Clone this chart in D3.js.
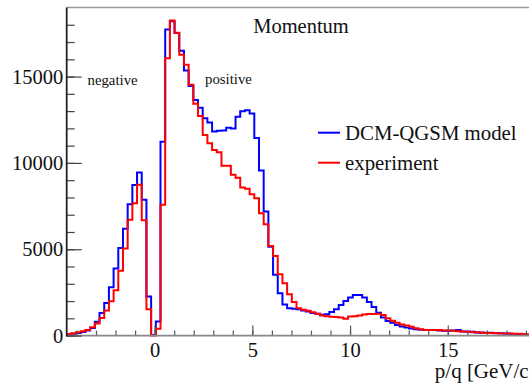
<!DOCTYPE html>
<html>
<head>
<meta charset="utf-8">
<script src="https://cdn.jsdelivr.net/npm/d3@7"></script>
<style>
  html, body { margin: 0; padding: 0; background: #fff; }
  svg { display: block; font-family: "Liberation Serif", "Times New Roman", serif; }
</style>
</head>
<body>
<svg id="chart" width="529" height="385"></svg>
<script>
// Histogram binning: 100 bins of 0.24 GeV/c from -4.5 to 19.5
const binLow = -4.5;
const binWidth = 0.24;

// Bin contents, DCM-QGSM model
const model = [
  60, 100, 150, 210, 290, 440, 800, 1310, 1890, 2800,
  3880, 5070, 6190, 7600, 8720, 9450, 7870, 2260, 40, 820,
  11230, 17720, 18200, 17520, 16490, 15350, 14460, 13650, 13200, 12590,
  12340, 11820, 11860, 11870, 12030, 12000, 12670, 12990, 13050, 12860,
  11440, 9560, 7180, 5150, 3530, 2450, 1800, 1580, 1560, 1520,
  1460, 1390, 1310, 1270, 1210, 1240, 1370, 1530, 1770, 2010,
  2200, 2350, 2350, 2210, 1950, 1650, 1330, 1050, 850, 740,
  620, 520, 470, 410, 370, 340, 325, 320, 320, 290,
  285, 285, 290, 320, 240, 230, 220, 180, 170, 165,
  160, 135, 130, 120, 100, 90, 80, 60, 50, 40
];

// Bin contents, experiment
const experiment = [
  95, 135, 190, 250, 330, 480, 700, 1020, 1450, 1990,
  2630, 3750, 5050, 6710, 7670, 8740, 6680, 1530, 0, 400,
  7580, 16060, 18250, 17540, 16260, 15680, 14520, 13420, 12720, 11620,
  11140, 10750, 10620, 9840, 9840, 9310, 9140, 8580, 8500, 8180,
  7950, 7085, 6450, 5190, 4610, 3550, 3030, 2400, 1950, 1590,
  1500, 1440, 1350, 1260, 1160, 1120, 1090, 1080, 1050, 970,
  1110, 1120, 1160, 1220, 1250, 1250, 1260, 1200, 1000, 860,
  740, 640, 590, 510, 430, 370, 330, 325, 320, 320,
  295, 290, 285, 250, 240, 235, 195, 190, 185, 155,
  150, 145, 120, 118, 115, 100, 100, 95, 70, 65
];

// Axis ticks and text
const xMajorTicks = [0, 5, 10, 15];
const xMinorTicks = d3.range(-4, 20, 1);
const yMajorTicks = [0, 5000, 10000, 15000];
const yMinorTicks = d3.range(0, 19000, 1000);
const legendLabels = ["DCM-QGSM model", "experiment"];
const seriesColors = ["#0000ff", "#ff0000"];

const svg = d3.select("#chart");
const frame = { left: 66.7, right: 535.7, top: 7.5, bottom: 335.6 };

const x = d3.scaleLinear().domain([-4.5, 19.5]).range([frame.left, frame.right]);
const y = d3.scaleLinear().domain([0, 19000]).range([frame.bottom, frame.top]);

// frame top edge
svg.append("line")
  .attr("x1", frame.left).attr("x2", frame.right).attr("y1", frame.top).attr("y2", frame.top)
  .attr("stroke", "#999").attr("stroke-width", 1.4);

// histogram outlines
function stepPoints(values) {
  const pts = values.map((v, i) => [binLow + i * binWidth, v]);
  pts.push([binLow + values.length * binWidth, values[values.length - 1]]);
  return pts;
}
const line = d3.line()
  .x(d => x(d[0]))
  .y(d => y(d[1]))
  .curve(d3.curveStepAfter);

[model, experiment].forEach((vals, i) => {
  svg.append("path")
    .datum(stepPoints(vals))
    .attr("d", line)
    .attr("fill", "none")
    .attr("stroke", seriesColors[i])
    .attr("stroke-width", 2);
});

// x axis (ticks point up into the frame)
const gx = svg.append("g").attr("transform", `translate(0,${frame.bottom})`);
gx.append("g").call(d3.axisBottom(x).tickValues(xMinorTicks).tickSize(-5).tickFormat(""));
gx.append("g").call(d3.axisBottom(x).tickValues(xMajorTicks).tickSize(-10).tickPadding(6.5).tickFormat(d3.format("d")));
gx.selectAll(".domain").remove();
gx.selectAll("line").attr("stroke", "#555").attr("stroke-width", 1.2);
gx.selectAll("text").attr("font-size", 20.5).attr("fill", "#111").attr("font-family", "Liberation Serif");
svg.append("line")
  .attr("x1", frame.left).attr("x2", frame.right).attr("y1", frame.bottom).attr("y2", frame.bottom)
  .attr("stroke", "#888").attr("stroke-width", 1.6);

// y axis (ticks point right into the frame)
const gy = svg.append("g").attr("transform", `translate(${frame.left},0)`);
gy.append("g").call(d3.axisLeft(y).tickValues(yMinorTicks).tickSize(-8).tickFormat(""));
gy.append("g").call(d3.axisLeft(y).tickValues(yMajorTicks).tickSize(-15).tickPadding(3.5).tickFormat(d3.format("d")));
gy.selectAll(".domain").remove();
gy.selectAll("line").attr("stroke", "#444").attr("stroke-width", 1.2);
gy.selectAll("text").attr("font-size", 20.5).attr("fill", "#111").attr("font-family", "Liberation Serif");
svg.append("line")
  .attr("x1", frame.left).attr("x2", frame.left).attr("y1", frame.top).attr("y2", frame.bottom + 0.8)
  .attr("stroke", "#222").attr("stroke-width", 1.8);

// titles and annotations
svg.append("text").attr("x", 301).attr("y", 33).attr("text-anchor", "middle")
  .attr("font-size", 20.5).attr("fill", "#111").text("Momentum");
svg.append("text").attr("x", frame.right).attr("y", 378).attr("text-anchor", "end")
  .attr("font-size", 21).attr("fill", "#111").text("p/q [GeV/c]");
svg.append("text").attr("x", 87.5).attr("y", 85).attr("font-size", 14.8)
  .attr("fill", "#111").text("negative");
svg.append("text").attr("x", 205).attr("y", 84).attr("font-size", 14.8)
  .attr("fill", "#111").text("positive");

// legend
const legendY = [132.7, 162.7];
legendLabels.forEach((label, i) => {
  svg.append("line")
    .attr("x1", 318).attr("x2", 340).attr("y1", legendY[i]).attr("y2", legendY[i])
    .attr("stroke", seriesColors[i]).attr("stroke-width", 2);
  svg.append("text").attr("x", 345).attr("y", legendY[i] + 6.8)
    .attr("font-size", 20.8).attr("fill", "#111").text(label);
});
</script>
</body>
</html>
